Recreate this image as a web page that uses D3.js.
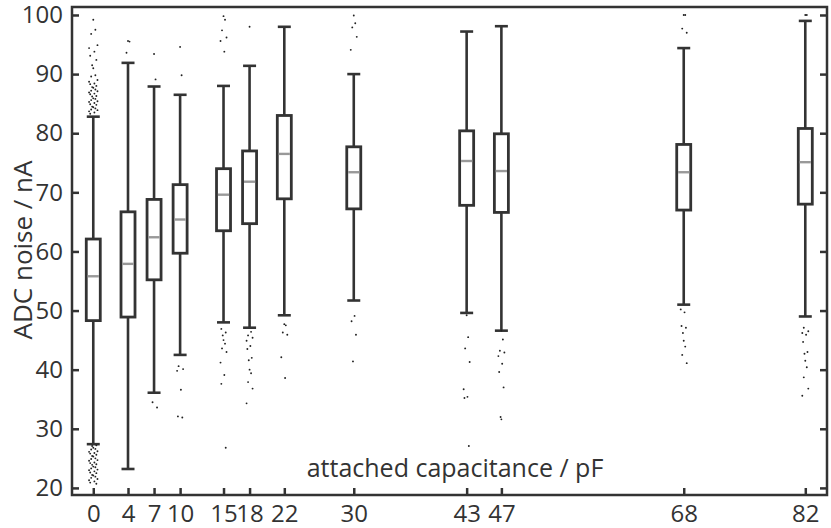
<!DOCTYPE html>
<html>
<head>
<meta charset="utf-8">
<script src="https://cdn.jsdelivr.net/npm/d3@7"></script>
<style>
  body { margin: 0; background: #fff; }
  text { font-family: "Open Sans", sans-serif; fill: #333; }
</style>
</head>
<body>
<div id="viz"></div>
<script>
// data
var caps = [0, 4, 7, 10, 15, 18, 22, 30, 43, 47, 68, 82];
var whiskerLo = [27.4, 23.2, 36.1, 42.5, 48.0, 47.1, 49.2, 51.7, 49.6, 46.6, 51.0, 49.0];
var q1 = [48.3, 48.9, 55.2, 59.7, 63.5, 64.7, 68.9, 67.2, 67.8, 66.6, 67.0, 68.0];
var median = [55.8, 57.9, 62.4, 65.4, 69.6, 71.8, 76.5, 73.4, 75.3, 73.6, 73.4, 75.1];
var q3 = [62.1, 66.7, 68.8, 71.3, 74.0, 77.0, 83.0, 77.7, 80.4, 79.9, 78.1, 80.8];
var whiskerHi = [82.8, 91.9, 87.9, 86.5, 88.0, 91.4, 98.0, 90.0, 97.2, 98.1, 94.4, 99.0];

var outliers = [
  [99.2, 97.5, 96.8, 94.9, 94.4, 93.8, 93.1, 92.4, 91.5, 91.0, 89.8, 89.6, 89.0,
   88.7, 88.4, 88.3, 88.0, 87.8, 87.7, 87.4, 87.2, 87.1, 86.9, 86.7, 86.6, 86.3,
   86.2, 85.9, 85.8, 85.6, 85.4, 85.3, 85.1, 84.9, 84.8, 84.5, 84.4, 84.2, 84.0,
   83.9, 83.7, 83.5, 83.3,
   27.2, 27.1, 26.8, 26.6, 26.5, 26.2, 26.1, 25.9, 25.8, 25.6, 25.4, 25.3, 25.0,
   24.9, 24.7, 24.6, 24.3, 24.2, 24.0, 23.9, 23.6, 23.5, 23.3, 23.1, 23.0, 22.8,
   22.6, 22.5, 22.2, 22.1, 21.9, 21.7, 21.5, 21.3, 21.1, 20.9, 20.7],
  [95.6, 95.5, 93.6],
  [93.4, 89.1, 34.5, 33.6],
  [94.6, 89.8, 40.6, 40.1, 39.8, 36.6, 32.1, 31.9],
  [99.8, 99.2, 97.4, 96.2, 95.6, 93.8, 46.9, 46.3, 45.8, 45.0, 44.4, 43.6, 43.0, 41.2, 39.1, 37.6, 26.8],
  [98.0, 46.4, 45.8, 45.4, 44.9, 44.0, 43.5, 42.0, 41.6, 40.0, 39.4, 37.9, 36.8, 34.3],
  [47.7, 47.5, 46.3, 45.9, 42.1, 38.6],
  [99.9, 98.6, 97.9, 96.3, 94.1, 49.1, 48.2, 45.9, 41.4],
  [49.2, 45.5, 43.6, 41.3, 36.7, 35.4, 35.2, 27.1],
  [46.6, 45.1, 43.2, 42.9, 42.3, 41.0, 39.6, 37.0, 32.0, 31.6],
  [100.0, 100.0, 97.7, 97.0, 50.2, 49.7, 47.4, 47.1, 46.2, 44.9, 43.9, 42.5, 41.1],
  [100.0, 100.0, 47.1, 46.5, 46.2, 45.9, 44.7, 43.0, 42.7, 41.5, 40.4, 38.7, 36.8, 35.6]
];

var yTicks = [20, 30, 40, 50, 60, 70, 80, 90, 100];

// layout
var width = 831, height = 528;
var mLeft = 72, mRight = 827, mTop = 7, mBottom = 495;
var boxW = 14, capW = 13;
var ink = "#333";
var jit = [0, 1.5, -1.5, 3, -3, 0.8, -2.2, 2.2, -0.8];

var x = d3.scaleLinear().domain([-2.45, 84.5]).range([mLeft, mRight]);
var y = d3.scaleLinear().domain([18.8, 101.35]).range([mBottom, mTop]);

var svg = d3.select("#viz")
  .append("svg")
  .attr("width", width)
  .attr("height", height);

// axes (ticks point inward)
svg.append("g")
  .attr("transform", "translate(" + mLeft + ",0)")
  .call(d3.axisLeft(y).tickValues(yTicks).tickSize(-7).tickPadding(9))
  .call(function(g) { g.select(".domain").remove(); })
  .call(function(g) {
    g.selectAll("line").attr("stroke", ink).attr("stroke-width", 2.5);
    g.selectAll("text").attr("font-size", "24px").attr("fill", ink)
      .style("font-family", '"Open Sans", sans-serif');
  });

svg.append("g")
  .attr("transform", "translate(" + mRight + ",0)")
  .call(d3.axisRight(y).tickValues(yTicks).tickSize(-7).tickFormat(""))
  .call(function(g) { g.select(".domain").remove(); })
  .call(function(g) { g.selectAll("line").attr("stroke", ink).attr("stroke-width", 2.5); });

svg.append("g")
  .attr("transform", "translate(0," + mBottom + ")")
  .call(d3.axisBottom(x).tickValues(caps).tickSize(-7).tickPadding(10).tickFormat(d3.format("d")))
  .call(function(g) { g.select(".domain").remove(); })
  .call(function(g) {
    g.selectAll("line").attr("stroke", ink).attr("stroke-width", 2.5);
    g.selectAll("text").attr("font-size", "24px").attr("fill", ink)
      .style("font-family", '"Open Sans", sans-serif');
  });

// frame
svg.append("rect")
  .attr("x", mLeft).attr("y", mTop)
  .attr("width", mRight - mLeft).attr("height", mBottom - mTop)
  .attr("fill", "none")
  .attr("stroke", ink)
  .attr("stroke-width", 2.5);

// boxes
var boxes = svg.append("g").selectAll("g")
  .data(caps)
  .enter()
  .append("g");

// whiskers
boxes.append("line")
  .attr("x1", function(d) { return x(d); })
  .attr("x2", function(d) { return x(d); })
  .attr("y1", function(d, i) { return y(whiskerLo[i]); })
  .attr("y2", function(d, i) { return y(whiskerHi[i]); })
  .attr("stroke", ink)
  .attr("stroke-width", 2.6);

[whiskerLo, whiskerHi].forEach(function(arr) {
  boxes.append("line")
    .attr("x1", function(d) { return x(d) - capW/2; })
    .attr("x2", function(d) { return x(d) + capW/2; })
    .attr("y1", function(d, i) { return y(arr[i]); })
    .attr("y2", function(d, i) { return y(arr[i]); })
    .attr("stroke", ink)
    .attr("stroke-width", 2.6);
});

boxes.append("rect")
  .attr("x", function(d) { return x(d) - boxW/2; })
  .attr("y", function(d, i) { return y(q3[i]); })
  .attr("width", boxW)
  .attr("height", function(d, i) { return y(q1[i]) - y(q3[i]); })
  .attr("fill", "#fff")
  .attr("stroke", ink)
  .attr("stroke-width", 2.8);

boxes.append("line")
  .attr("x1", function(d) { return x(d) - boxW/2 + 1.4; })
  .attr("x2", function(d) { return x(d) + boxW/2 - 1.4; })
  .attr("y1", function(d, i) { return y(median[i]); })
  .attr("y2", function(d, i) { return y(median[i]); })
  .attr("stroke", "#999")
  .attr("stroke-width", 2.4);

// outliers
boxes.each(function(d, i) {
  var spread = i === 0 ? 1.4 : 1;
  d3.select(this).selectAll("circle")
    .data(outliers[i])
    .enter()
    .append("circle")
    .attr("cx", function(v, k) { return x(d) + jit[k % jit.length] * spread; })
    .attr("cy", function(v) { return y(v); })
    .attr("r", 0.95)
    .attr("fill", "#222");
});

// titles
svg.append("text")
  .attr("x", 455)
  .attr("y", 477)
  .attr("text-anchor", "middle")
  .attr("font-size", "25px")
  .text("attached capacitance / pF");

svg.append("text")
  .attr("transform", "translate(32,250) rotate(-90)")
  .attr("text-anchor", "middle")
  .attr("font-size", "26px")
  .text("ADC noise / nA");
</script>
</body>
</html>
